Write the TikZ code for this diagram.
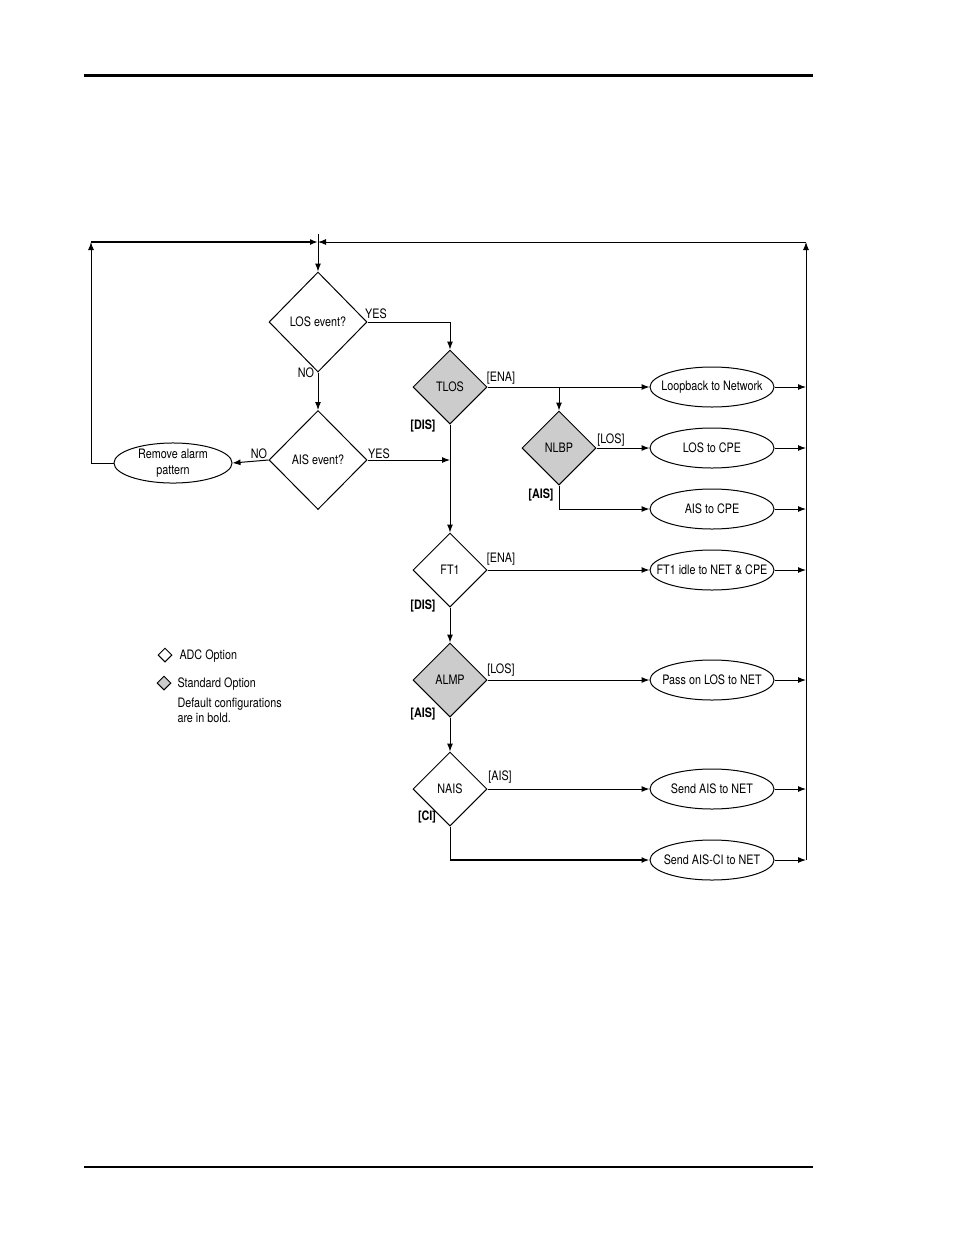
\documentclass[tikz,border=0pt]{standalone}
\usepackage{fontspec}
\setmainfont[FakeStretch=0.83]{TeX Gyre Heros}
\usepackage{tikz}
\usetikzlibrary{arrows.meta, shapes.geometric, positioning}

\tikzset{
  txt/.style={font=\fontsize{13}{16}\selectfont},
  dec/.style={diamond, draw, txt, inner sep=0pt, minimum width=74pt, minimum height=74pt},
  std/.style={dec, fill=gray!40},
  act/.style={ellipse, draw, txt, inner ysep=0pt, inner xsep=-15pt, minimum width=124pt, minimum height=40pt, align=center},
  flow/.style={-{Latex[length=8pt,width=6pt]}},
  lbl/.style={txt, inner sep=1pt},
  dflt/.style={lbl, font=\fontsize{13}{16}\selectfont\bfseries}
}

\begin{document}
\begin{tikzpicture}[x=1pt, y=-1pt, line width=1pt]
\useasboundingbox (0,0) rectangle (954,1235);
\draw[line width=3pt] (84,75) -- (813,75);
\draw[line width=1.5pt] (84,1167) -- (813,1167);

\node[dec, minimum width=98pt, minimum height=100pt] (los) at (318,322) {LOS event?};
\node[dec, minimum width=98pt, minimum height=99pt] (ais) at (318,460) {AIS event?};
\node[act, inner xsep=0pt, minimum width=118pt, minimum height=34pt] (rem) at (173,463) {Remove alarm\\pattern};
\node[std] (tlos) at (450,387) {TLOS};
\node[std] (nlbp) at (559,448) {NLBP};
\node[dec] (ft1) at (450,570) {FT1};
\node[std] (almp) at (450,680) {ALMP};
\node[dec] (nais) at (450,789) {NAIS};

\node[act] (loop) at (712,387) {Loopback to Network};
\node[act] (loscpe) at (712,448) {LOS to CPE};
\node[act] (aiscpe) at (712,509) {AIS to CPE};
\node[act] (idle) at (712,570) {FT1 idle to NET \& CPE};
\node[act] (passlos) at (712,680) {Pass on LOS to NET};
\node[act] (sendais) at (712,789) {Send AIS to NET};
\node[act] (sendci) at (712,860) {Send AIS-CI to NET};

\coordinate (top) at (318,242);
\coordinate (topin) at (318,234);
\coordinate (topL) at (91,242);
\coordinate (topR) at (806,242);
\coordinate (railend) at (806,860);
\coordinate (citurn) at (450,860);

\draw[flow] (topin) -- (los.north);
\draw[flow] (los.south) -- (ais.north);
\draw[flow] (los.east) -| (tlos.north);
\draw[flow] (ais.west) -- (rem.east);
\draw[flow] (ais.east) -- (ais.east -| tlos.south);
\draw[flow] (rem.west) -| (topL);
\draw[flow, line width=1.8pt] (topL) -- (top);
\draw[flow] (railend) -- (topR);
\draw[flow] (topR) -- (top);

\draw[flow] (tlos.south) -- (ft1.north);
\draw[flow] (tlos.east) -- (loop.west);
\draw[flow] (tlos.east -| nlbp.north) -- (nlbp.north);
\draw[flow] (nlbp.east) -- (loscpe.west);
\draw[flow] (nlbp.south) |- (aiscpe.west);
\draw[flow] (ft1.east) -- (idle.west);
\draw[flow] (ft1.south) -- (almp.north);
\draw[flow] (almp.east) -- (passlos.west);
\draw[flow] (almp.south) -- (nais.north);
\draw[flow] (nais.east) -- (sendais.west);
\draw (nais.south) -- (citurn);
\draw[flow, line width=1.8pt] (citurn) -- (sendci.west);

\foreach \n in {loop,loscpe,aiscpe,idle,passlos,sendais,sendci}
  \draw[flow] (\n.east) -- (\n.east -| railend);

\node[lbl] at (376,314) {YES};
\node[lbl] at (306,373) {NO};
\node[lbl] at (259,454) {NO};
\node[lbl] at (379,454) {YES};
\node[dflt] at (423,426) {[DIS]};
\node[lbl] at (501,378) {[ENA]};
\node[lbl] at (611,440) {[LOS]};
\node[dflt] at (541,495) {[AIS]};
\node[lbl] at (501,559) {[ENA]};
\node[dflt] at (423,606) {[DIS]};
\node[lbl] at (501,670) {[LOS]};
\node[dflt] at (423,714) {[AIS]};
\node[lbl] at (500,777) {[AIS]};
\node[dflt] at (427,817) {[CI]};

\node[diamond, draw, inner sep=0pt, minimum size=14pt] (adc) at (165,655) {};
\node[lbl, anchor=west] at (178,656) {ADC Option};
\node[diamond, draw, fill=gray!40, inner sep=0pt, minimum size=14pt] (stdo) at (164,683) {};
\node[lbl, anchor=west] at (176,684) {Standard Option};
\node[lbl, anchor=north west, align=left] at (176,696) {Default configurations\\[-1pt]are in bold.};
\end{tikzpicture}
\end{document}
